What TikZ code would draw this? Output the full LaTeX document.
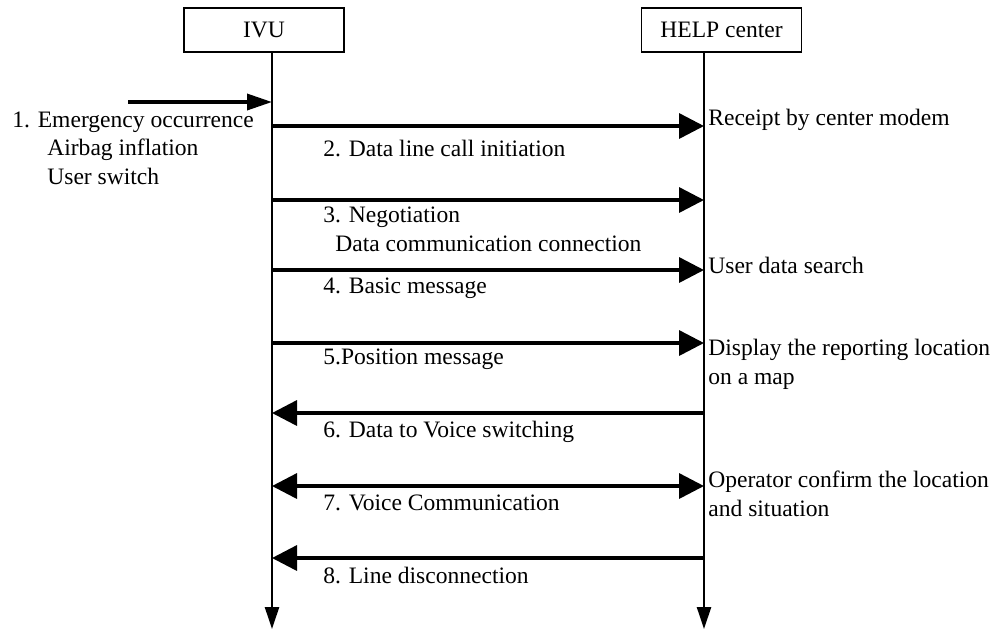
\documentclass[tikz,border=0pt]{standalone}
\usepackage{fontspec}
\setmainfont{Liberation Serif}
\usetikzlibrary{arrows.meta}

\tikzset{
  bigtip/.tip={Triangle[length=0.5cm,width=0.5cm]},
  slimtip/.tip={Triangle[length=0.5cm,width=0.32cm]},
  endtip/.tip={Triangle[length=0.44cm,width=0.28cm]},
}

\begin{document}
\begin{tikzpicture}[
  font=\fontsize{13.4}{16.2}\selectfont,
  box/.style={draw,line width=1pt,minimum width=3.2cm,minimum height=0.88cm,inner sep=0pt},
  lifeline/.style={line width=1.4pt,-endtip},
  msg/.style={line width=0.07cm,-bigtip},
  label/.style={anchor=west,inner sep=0pt,align=left}]
\useasboundingbox (0,0) rectangle (19.9,-12.6);
\def\ivux{5.44}
\def\helpx{14.08}

% the two parties
\node[box] (ivu) at (5.28,-0.6) {IVU};
\node[box] (help) at (14.43,-0.6) {HELP center};

\coordinate (ivu-end) at (\ivux,-12.58);
\coordinate (help-end) at (\helpx,-12.58);
\draw[lifeline] (ivu.south -| ivu-end) -- (ivu-end);
\draw[lifeline] (help.south -| help-end) -- (help-end);

% points on the lifelines
\foreach \n/\y in {2/-2.52,3/-4.0,4/-5.4,5/-6.86,6/-8.26,7/-9.72,8/-11.16}{
  \coordinate (i\n) at (\ivux,\y);
  \coordinate (h\n) at (\helpx,\y);
}

% 1. trigger
\coordinate (trigger) at (2.56,-2.04);
\coordinate (i1) at (\ivux,-2.04);
\draw[msg,-slimtip] (trigger) -- (i1);
\node[label] (l1) at (0.24,-2.96) {1. Emergency occurrence\\\hspace*{0.7cm}Airbag inflation\\\hspace*{0.7cm}User switch};

% messages
\draw[msg] (i2) -- (h2);
\draw[msg] (i3) -- (h3);
\draw[msg] (i4) -- (h4);
\draw[msg] (i5) -- (h5);
\draw[msg] (h6) -- (i6);
\draw[msg,bigtip-bigtip] (i7) -- (h7);
\draw[msg] (h8) -- (i8);

% message labels
\node[label] (l2) at (6.46,-2.96) {2. Data line call initiation};
\node[label] (l3) at (6.46,-4.59) {3. Negotiation\\\hspace*{0.24cm}Data communication connection};
\node[label] (l4) at (6.46,-5.76) {4. Basic message};
\node[label] (l5) at (6.46,-7.18) {5.Position message};
\node[label] (l6) at (6.46,-8.64) {6. Data to Voice switching};
\node[label] (l7) at (6.46,-10.06) {7. Voice Communication};
\node[label] (l8) at (6.46,-11.50) {8. Line disconnection};

% center side
\node[label] (r2) at (14.16,-2.40) {Receipt by center modem};
\node[label] (r4) at (14.16,-5.30) {User data search};
\node[label] (r5) at (14.16,-7.29) {Display the reporting location\\on a map};
\node[label] (r7) at (14.16,-9.88) {Operator confirm the location\\and situation};
\end{tikzpicture}
\end{document}
